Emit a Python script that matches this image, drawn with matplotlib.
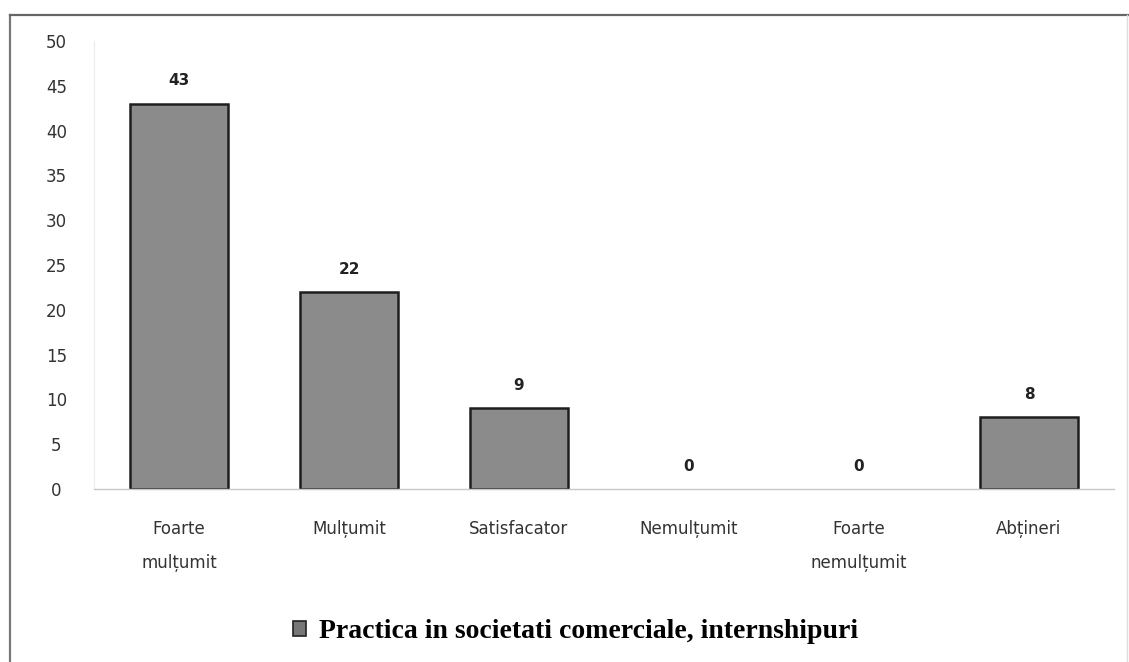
import matplotlib
matplotlib.use("Agg")
import matplotlib.pyplot as plt
from matplotlib.lines import Line2D

categories = ["Foarte\nmulțumit", "Mulțumit", "Satisfacator", "Nemulțumit", "Foarte\nnemulțumit", "Abțineri"]
values = [43, 22, 9, 0, 0, 8]
series_name = "Practica in societati comerciale, internshipuri"
yticks = [0, 5, 10, 15, 20, 25, 30, 35, 40, 45, 50]

W, H = 1129, 662
fig = plt.figure(figsize=(W / 100, H / 100), dpi=100)
fig.patch.set_facecolor("white")
ax = fig.add_axes([94 / W, 1 - 489 / H, 1020 / W, 448 / H])

x = list(range(len(categories)))
edgecolors = ["#1e1e1e" if v > 0 else "none" for v in values]
bars = ax.bar(x, values, width=0.575, color="#8b8b8b", edgecolor=edgecolors, linewidth=1.8,
              label=series_name)
for xi, v in zip(x, values):
    ax.text(xi, v + 1.7, str(v), ha="center", va="bottom", fontsize=11, fontweight="bold",
            color="#222222")

ax.set_xlim(-0.5, len(categories) - 0.5)
ax.set_ylim(0, 50)
ax.set_yticks(yticks)
ax.set_xticks(x)
ax.set_xticklabels(categories, fontsize=12, color="#333333", linespacing=2.2)
ax.tick_params(axis="y", labelsize=12, labelcolor="#333333", length=0, pad=27)
ax.tick_params(axis="x", length=0, pad=22)
for lbl in ax.get_yticklabels():
    lbl.set_horizontalalignment("center")
for s in ["top", "right"]:
    ax.spines[s].set_visible(False)
ax.spines["left"].set_color("#ececec")
ax.spines["bottom"].set_color("#c8c8c8")
ax.spines["bottom"].set_linewidth(1.0)

handle = plt.Rectangle((0, 0), 1, 1, facecolor="#777777", edgecolor="#222222", linewidth=1.2)
fig.legend(handles=[handle], labels=[series_name], loc="center", bbox_to_anchor=(0.51, 0.046),
           frameon=False, handlelength=0.45, handleheight=0.45, handletextpad=0.5,
           prop={"family": "Liberation Serif", "weight": "bold", "size": 20})

# outer frame
fig.add_artist(Line2D([10 / W, 10 / W], [0, 1 - 15 / H], transform=fig.transFigure,
                      color="#777777", linewidth=1.6))
fig.add_artist(Line2D([10 / W, 1], [1 - 15 / H, 1 - 15 / H], transform=fig.transFigure,
                      color="#666666", linewidth=1.6))
fig.add_artist(Line2D([1127 / W, 1127 / W], [0, 1 - 15 / H], transform=fig.transFigure,
                      color="#dddddd", linewidth=1.0))

fig.savefig("out.png", dpi=100)
